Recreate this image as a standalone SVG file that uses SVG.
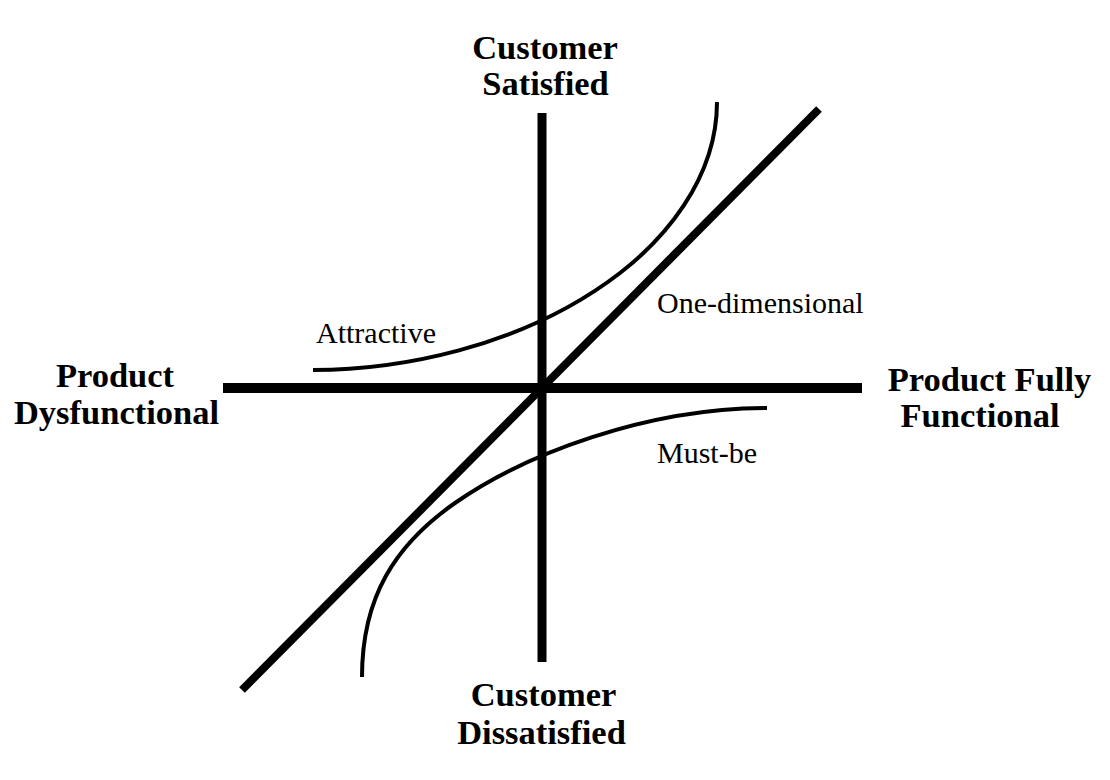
<svg xmlns="http://www.w3.org/2000/svg" width="1110" height="780" viewBox="0 0 1110 780">
<style>
.axis{stroke:#000;fill:none;stroke-linecap:butt}
.curve{stroke:#000;fill:none;stroke-width:4}
.title{font-family:"Liberation Serif","Times New Roman",serif;font-weight:bold;font-size:34.5px;fill:#000;text-anchor:middle}
.lbl{font-family:"Liberation Serif","Times New Roman",serif;font-size:30px;fill:#000}
</style>
<rect width="1110" height="780" fill="#fff"/>
<g id="axes">
<line class="axis" x1="223" y1="388" x2="862" y2="388" stroke-width="10"/>
<line class="axis" x1="542" y1="113" x2="542" y2="662" stroke-width="9"/>
</g>
<g id="curves">
<line id="one-dimensional-line" class="axis" x1="242" y1="690" x2="819" y2="109" stroke-width="8"/>
<path id="attractive-curve" class="curve" d="M313,370 C393,370 520,350 620,273 C660,242.2 717,182 717,102"/>
<path id="must-be-curve" class="curve" d="M362,677 C362,597 395,545 455,503 C525,454 647,408 767,408"/>
</g>
<g id="customer-satisfied">
<text class="title" x="545" y="59">Customer</text>
<text class="title" x="545.5" y="95">Satisfied</text>
</g>
<g id="product-dysfunctional">
<text class="title" x="115" y="387">Product</text>
<text class="title" x="116.5" y="424">Dysfunctional</text>
</g>
<g id="product-fully-functional">
<text class="title" x="989.5" y="391">Product Fully</text>
<text class="title" x="980" y="427">Functional</text>
</g>
<g id="customer-dissatisfied">
<text class="title" x="543.5" y="706">Customer</text>
<text class="title" x="541.5" y="744">Dissatisfied</text>
</g>
<g id="labels">
<text class="lbl" x="316" y="343">Attractive</text>
<text class="lbl" x="657" y="313">One-dimensional</text>
<text class="lbl" x="657" y="463">Must-be</text>
</g>
</svg>
